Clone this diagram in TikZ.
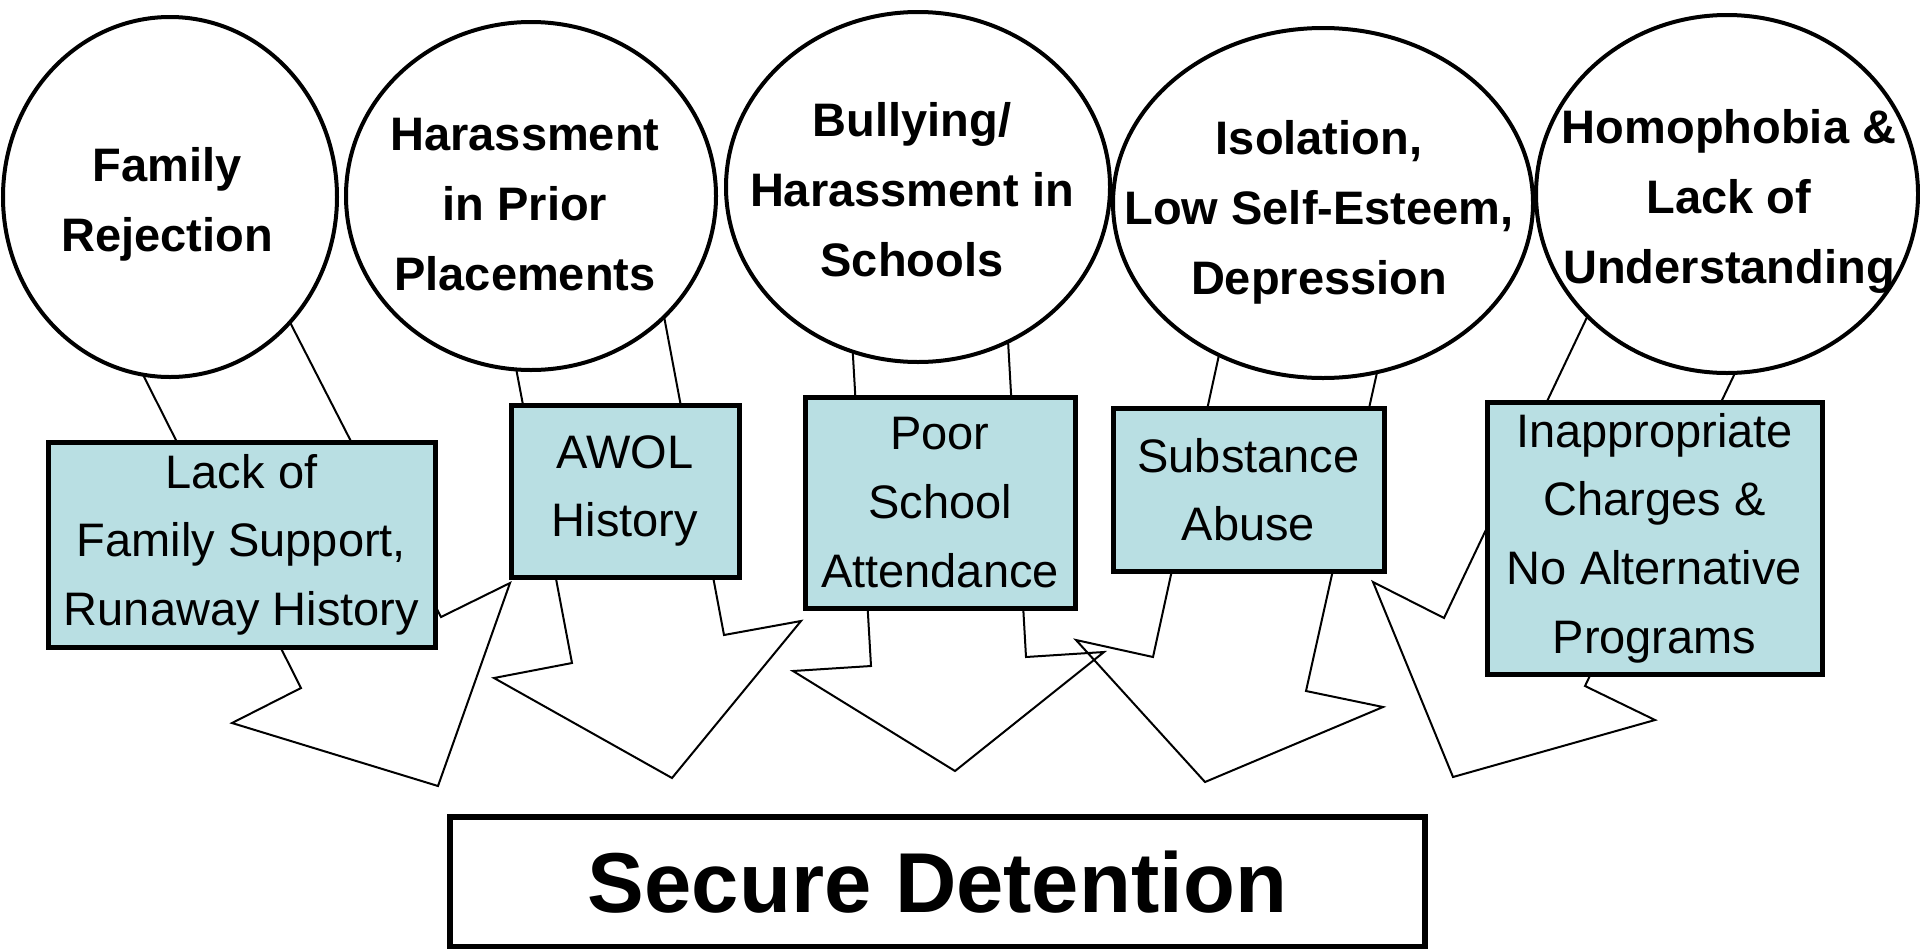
\documentclass[tikz,border=0pt]{standalone}
\usepackage{fontspec}
\setmainfont{Liberation Sans}
\usetikzlibrary{shapes.geometric}
\definecolor{boxblue}{RGB}{185,223,227}
\begin{document}
\begin{tikzpicture}[x=0.5pt, y=-0.5pt]
        \tikzstyle{bubble}=[draw, ellipse, line width=2pt, fill=white, inner sep=0pt]
        \tikzstyle{bubbletext}=[align=center, inner sep=0pt, font=\bfseries\fontsize{23.5}{35}\selectfont]
        \tikzstyle{cause}=[draw, rectangle, line width=2.5pt, fill=boxblue, align=center, inner sep=0pt, font=\fontsize{23.5}{34.3}\selectfont]
        \tikzstyle{blockarrow}=[line width=1pt, line join=miter]

        \useasboundingbox (0,0) rectangle (1920,948);

        \draw[blockarrow] (128,345) -- (301,688) -- (232,723) -- (438,786) -- (510,583) -- (441,617) -- (275,293);
        \draw[blockarrow] (512,347) -- (572,663) -- (494,678) -- (672,778) -- (801,621) -- (724,635) -- (660,295);
        \draw[blockarrow] (851,322) -- (871,666) -- (793,671) -- (955,771) -- (1104,652) -- (1026,657) -- (1007,323);
        \draw[blockarrow] (1224,332) -- (1153,657) -- (1076,640) -- (1205,782) -- (1383,707) -- (1306,691) -- (1382,350);
        \draw[blockarrow] (1599,292) -- (1444,618) -- (1373,582) -- (1453,777) -- (1655,720) -- (1585,686) -- (1747,348);

        \node (fam) [bubble, minimum width=167pt, minimum height=180pt] at (170,197) {};
        \node (prior) [bubble, minimum width=185pt, minimum height=174pt] at (531,196) {};
        \node (bully) [bubble, minimum width=192pt, minimum height=175pt] at (918,187) {};
        \node (iso) [bubble, minimum width=210pt, minimum height=175pt] at (1323,203) {};
        \node (homo) [bubble, minimum width=191pt, minimum height=179pt] at (1727,194) {};

        \node (famtext) [bubbletext] at (167,204) {Family\\Rejection};
        \node (priortext) [bubbletext] at (525,205) {Harassment\\in Prior\\Placements};
        \node (bullytext) [bubbletext] at (912,190) {Bullying/\\Harassment in\\Schools};
        \node (isotext) [bubbletext] at (1319,212) {Isolation,\\Low Self-Esteem,\\Depression};
        \node (homotext) [bubbletext] at (1729,201) {Homophobia \&\\Lack of\\Understanding};

        \node (support) [cause, minimum width=193.5pt, minimum height=102.5pt] at (241.5,544.5) {Lack of\\Family Support,\\Runaway History};
        \node (awol) [cause, minimum width=114pt, minimum height=86pt] at (625,491) {AWOL\\History};
        \node (school) [cause, minimum width=135pt, minimum height=105.5pt] at (940,502.5) {Poor\\School\\Attendance};
        \node (abuse) [cause, minimum width=135.5pt, minimum height=81.5pt] at (1248.5,489.5) {Substance\\Abuse};
        \node (charges) [cause, minimum width=167.5pt, minimum height=136pt] at (1654.5,538) {Inappropriate\\Charges \&\\No Alternative\\Programs};

        \node (detention) [draw, line width=3pt, fill=white, inner sep=0pt, minimum width=487.5pt, minimum height=65pt, font=\bfseries\fontsize{42.5}{50}\selectfont] at (937.5,882) {Secure Detention};
    \end{tikzpicture}
\end{document}
